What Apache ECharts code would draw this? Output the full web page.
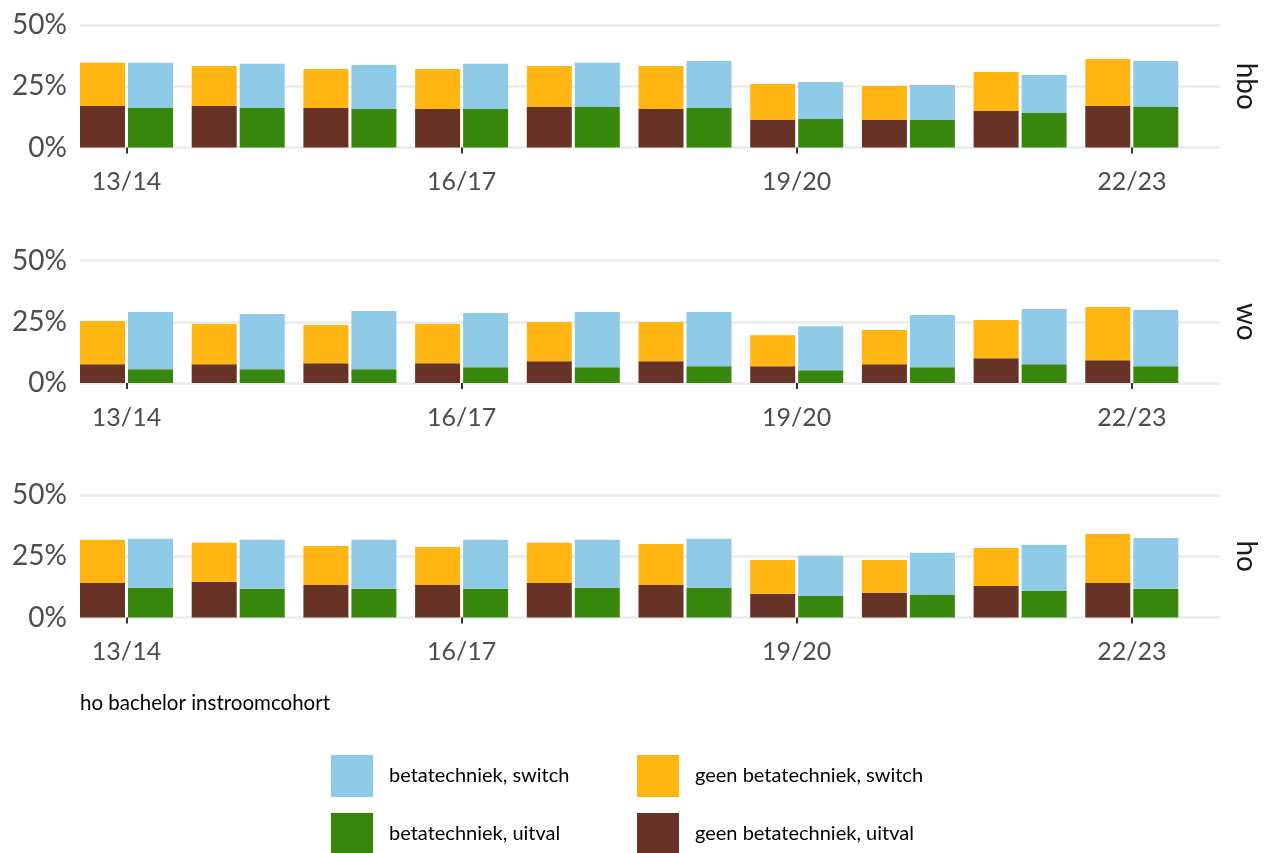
<!DOCTYPE html>
<html><head><meta charset="utf-8">
<script src="https://cdn.jsdelivr.net/npm/echarts@6/dist/echarts.min.js"></script>
<style>html,body{margin:0;padding:0;background:#fff}#c{width:1266px;height:853px}</style>
</head><body><div id="c"></div>
<script>
const cohorts = ['13/14','14/15','15/16','16/17','17/18','18/19','19/20','20/21','21/22','22/23'];
const panels = ['hbo', 'wo', 'ho'];
const yTicks = [0, 25, 50];

// percentages per cohort
const hboGeenUitval  = [16.9, 16.9, 16.1, 15.7, 16.5, 15.7, 11.2, 11.2, 14.9, 16.9];
const hboGeenSwitch  = [17.7, 16.4, 15.9, 16.3, 16.8, 17.6, 14.7, 13.9, 15.9, 19.2];
const hboBetaUitval  = [16.1, 16.1, 15.7, 15.7, 16.5, 16.1, 11.6, 11.2, 14.1, 16.5];
const hboBetaSwitch  = [18.5, 18.1, 18.0, 18.5, 18.1, 19.2, 15.1, 14.3, 15.5, 18.8];

const woGeenUitval   = [7.7, 7.7, 8.1, 8.1, 8.9, 8.9, 6.8, 7.7, 10.1, 9.3];
const woGeenSwitch   = [17.6, 16.4, 15.6, 16.0, 16.0, 16.0, 12.7, 13.9, 15.6, 21.7];
const woBetaUitval   = [5.6, 5.6, 5.6, 6.4, 6.4, 6.8, 5.2, 6.4, 7.7, 6.8];
const woBetaSwitch   = [23.4, 22.6, 23.8, 22.2, 22.6, 22.2, 18.0, 21.4, 22.5, 23.0];

const hoGeenUitval   = [14.1, 14.6, 13.3, 13.3, 14.1, 13.3, 9.7, 10.1, 12.9, 14.1];
const hoGeenSwitch   = [17.6, 15.9, 15.9, 15.5, 16.4, 16.7, 13.8, 13.4, 15.5, 20.0];
const hoBetaUitval   = [12.1, 11.7, 11.7, 11.7, 12.1, 12.1, 8.8, 9.2, 10.9, 11.7];
const hoBetaSwitch   = [20.0, 20.0, 20.0, 20.0, 19.6, 20.0, 16.4, 17.2, 18.7, 20.8];

const panelData = [
  [hboGeenUitval, hboGeenSwitch, hboBetaUitval, hboBetaSwitch],
  [woGeenUitval, woGeenSwitch, woBetaUitval, woBetaSwitch],
  [hoGeenUitval, hoGeenSwitch, hoBetaUitval, hoBetaSwitch]
];
const seriesNames = ['geen betatechniek, uitval', 'geen betatechniek, switch', 'betatechniek, uitval', 'betatechniek, switch'];
const seriesStacks = ['geen', 'geen', 'beta', 'beta'];
const seriesColors = ['#673327', '#FFB612', '#39870C', '#8FCAE7'];

const FONT = 'Lato';
const gridTops = [25, 260.5, 495];
const gridH = 122.5;

const grids = [], xAxes = [], yAxes = [], series = [], graphics = [];
panels.forEach((p, i) => {
  // background grid: gridlines and y labels
  grids.push({ left: 80, right: 46, top: gridTops[i], height: gridH });
  xAxes.push({ type: 'value', gridIndex: 2 * i, show: false, min: 0, max: 1 });
  yAxes.push({
    type: 'value', gridIndex: 2 * i, min: 0, max: 50, interval: 25,
    axisLine: { show: false }, axisTick: { show: false },
    axisLabel: { margin: 13, fontSize: 28, fontFamily: FONT, color: '#4D4D4D', formatter: '{value}%' },
    splitLine: { show: true, lineStyle: { color: '#EBEBEB', width: 2.5 } }
  });
  // bar grid: category axis
  grids.push({ left: 70.65, right: 78.35, top: gridTops[i], height: gridH });
  xAxes.push({
    type: 'category', gridIndex: 2 * i + 1, data: cohorts, offset: 5,
    axisLine: { show: false },
    splitLine: { show: false },
    axisTick: { show: true, length: 6, interval: 2, alignWithLabel: true, lineStyle: { color: '#333', width: 2 } },
    axisLabel: { show: true, interval: 2, margin: 17, fontSize: 25, fontFamily: FONT, color: '#4D4D4D' }
  });
  yAxes.push({ type: 'value', gridIndex: 2 * i + 1, min: 0, max: 50, show: false, splitLine: { show: false } });
  panelData[i].forEach((arr, k) => {
    series.push({
      name: seriesNames[k], type: 'bar', stack: seriesStacks[k] + i,
      xAxisIndex: 2 * i + 1, yAxisIndex: 2 * i + 1,
      barWidth: 45, barGap: '6.67%',
      itemStyle: { color: seriesColors[k] },
      emphasis: { disabled: true },
      data: arr
    });
  });
  graphics.push({
    type: 'text', x: 1246, y: gridTops[i] + gridH / 2, rotation: -Math.PI / 2,
    style: { text: p, fontSize: 28, fontFamily: FONT, fill: '#1A1A1A', textAlign: 'center', textVerticalAlign: 'middle' }
  });
});
graphics.push({
  type: 'text', x: 80, y: 703,
  style: { text: 'ho bachelor instroomcohort', fontSize: 20.5, fontFamily: FONT, fill: '#000', textAlign: 'left', textVerticalAlign: 'middle' }
});

function legend(name, left, top) {
  return { data: [name], left: left, top: top, padding: 0, icon: 'rect', itemWidth: 42, itemHeight: 42, selectedMode: false,
    textStyle: { fontSize: 20, fontFamily: FONT, color: '#000', padding: [0, 0, 0, 11] } };
}

const chart = echarts.init(document.getElementById('c'), null, { renderer: 'canvas' });
chart.setOption({
  animation: false,
  backgroundColor: '#fff',
  grid: grids, xAxis: xAxes, yAxis: yAxes, series: series,
  legend: [
    legend('betatechniek, switch', 331, 755),
    legend('geen betatechniek, switch', 637, 755),
    legend('betatechniek, uitval', 331, 813),
    legend('geen betatechniek, uitval', 637, 813)
  ],
  graphic: graphics
});
</script></body></html>
